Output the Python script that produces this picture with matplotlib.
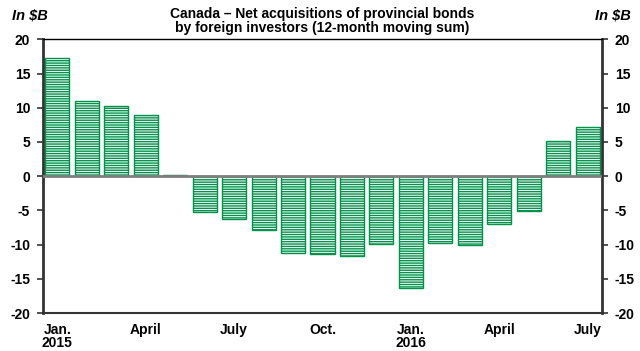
import numpy as np
import matplotlib.pyplot as plt

plt.rcParams['font.family'] = ['Liberation Sans', 'DejaVu Sans']
plt.rcParams['axes.unicode_minus'] = False

green = '#00924B'
plt.rcParams['hatch.linewidth'] = 1.0
plt.rcParams['hatch.color'] = green

# 12-month moving sum, Jan. 2015 to July 2016 ($B)
months = ['Jan. 2015', 'Feb.', 'Mar.', 'April', 'May', 'June', 'July', 'Aug.', 'Sep.',
          'Oct.', 'Nov.', 'Dec.', 'Jan. 2016', 'Feb.', 'Mar.', 'April', 'May', 'June', 'July']
net_acq = [17.3, 11.0, 10.3, 8.9, 0.2, -5.3, -6.2, -7.9, -11.2, -11.4, -11.7, -9.9,
           -16.3, -9.7, -10.0, -7.0, -5.1, 5.1, 7.2]
tick_pos = [0, 3, 6, 9, 12, 15, 18]
tick_lbl = ['Jan.\n2015', 'April', 'July', 'Oct.', 'Jan.\n2016', 'April', 'July']

fig = plt.figure(figsize=(6.4, 3.51), dpi=100)
ax = fig.add_axes([0.0667, 0.108, 0.8744, 0.780])

x = np.arange(len(net_acq))
ax.bar(x, net_acq, width=0.82, color='white', edgecolor=green, linewidth=1.0,
       hatch='-------', zorder=2)
ax.axhline(0, color='#7f7f7f', lw=2, zorder=3)

ax.set_xlim(-0.5, len(net_acq) - 0.5)
ax.set_ylim(-20, 20)
ax.set_yticks(np.arange(-20, 21, 5))
ax.set_xticks(tick_pos)
ax.set_xticklabels(tick_lbl, fontsize=10, fontweight='bold', linespacing=0.95)
ax.tick_params(axis='x', length=0, pad=7)
ax.tick_params(axis='y', which='both', direction='out', length=4, width=1.2, pad=5,
               labelsize=10, left=True, right=True, labelleft=True, labelright=True,
               color='#333333')
for lbl in ax.get_yticklabels():
    lbl.set_fontweight('bold')

for side in ['left', 'right']:
    ax.spines[side].set_linewidth(2.0)
    ax.spines[side].set_color('#333333')
ax.spines['bottom'].set_linewidth(1.5)
ax.spines['bottom'].set_color('#333333')
ax.spines['top'].set_linewidth(1.0)

ax.set_title('Canada \u2013 Net acquisitions of provincial bonds\nby foreign investors (12-month moving sum)',
             fontsize=10, fontweight='bold', linespacing=1.0, pad=5)
fig.text(0.019, 0.957, 'In $B', fontsize=10.5, fontweight='bold', style='italic', va='center')
fig.text(0.985, 0.957, 'In $B', fontsize=10.5, fontweight='bold', style='italic', va='center',
         ha='right')

fig.savefig('out.png', dpi=100)
